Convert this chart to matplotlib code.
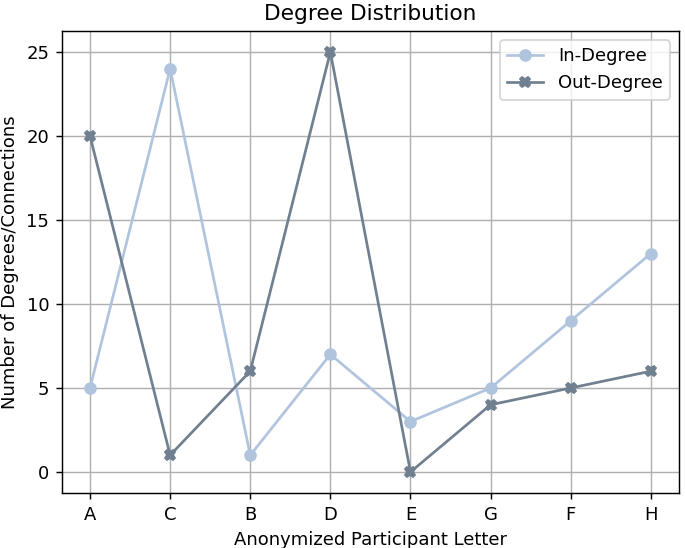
import matplotlib
matplotlib.use("Agg")
import matplotlib.pyplot as plt

participants = ["A", "C", "B", "D", "E", "G", "F", "H"]
in_degree = [5, 24, 1, 7, 3, 5, 9, 13]
out_degree = [20, 1, 6, 25, 0, 4, 5, 6]

DPI = 130
fig, ax = plt.subplots(figsize=(685 / DPI, 548 / DPI), dpi=DPI)
ax.plot(participants, in_degree, marker="o", color="lightsteelblue", label="In-Degree")
ax.plot(participants, out_degree, marker="X", color="slategray", label="Out-Degree")
ax.set_title("Degree Distribution")
ax.set_xlabel("Anonymized Participant Letter")
ax.set_ylabel("Number of Degrees/Connections")
ax.grid(True)
ax.legend(loc="upper right")
fig.subplots_adjust(left=0.0905, right=0.991, top=0.9434, bottom=0.1004)
fig.savefig("out.png", dpi=DPI)
